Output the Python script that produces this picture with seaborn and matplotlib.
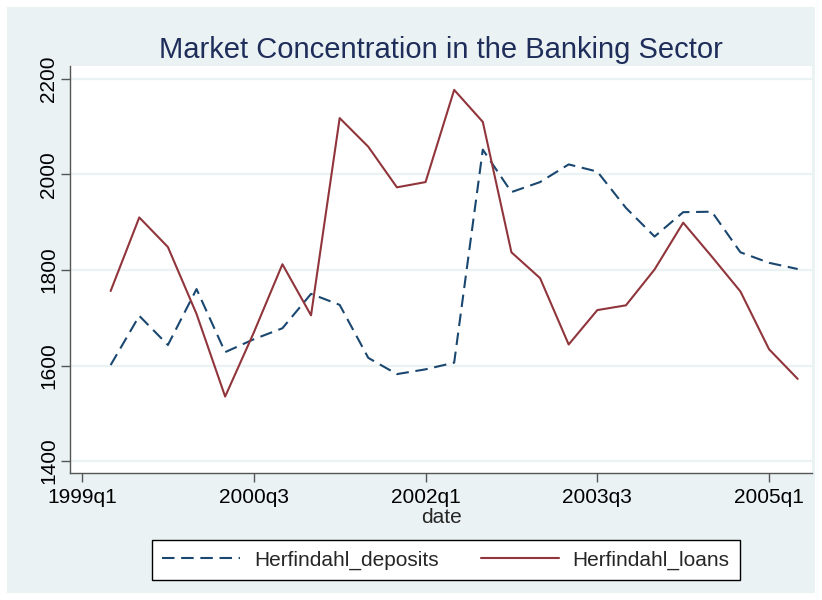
import matplotlib
matplotlib.use("Agg")
import matplotlib.pyplot as plt
import seaborn as sns
import pandas as pd
import numpy as np
from matplotlib.patches import Rectangle
from matplotlib.lines import Line2D

quarters = ["1999q2","1999q3","1999q4","2000q1","2000q2","2000q3","2000q4",
            "2001q1","2001q2","2001q3","2001q4","2002q1","2002q2","2002q3",
            "2002q4","2003q1","2003q2","2003q3","2003q4","2004q1","2004q2",
            "2004q3","2004q4","2005q1","2005q2"]
deposits = [1601, 1704, 1643, 1760, 1628, 1655, 1678, 1750, 1727, 1616, 1582,
            1592, 1606, 2052, 1963, 1984, 2021, 2006, 1930, 1870, 1921,
            1922, 1837, 1815, 1802]
loans = [1756, 1910, 1848, 1708, 1535, 1669, 1812, 1705, 2118, 2058, 1973,
         1984, 2177, 2110, 1837, 1783, 1644, 1716, 1726, 1801, 1899,
         1828, 1755, 1634, 1572]
tick_labels = ["1999q1", "2000q3", "2002q1", "2003q3", "2005q1"]
ytick_vals = [1400, 1600, 1800, 2000, 2200]

def qindex(q):
    y, qq = q.split("q")
    return (int(y) - 1999) * 4 + int(qq) - 1

x = [qindex(q) for q in quarters]
df = pd.DataFrame({
    "date": x * 2,
    "value": deposits + loans,
    "series": ["Herfindahl_deposits"] * len(x) + ["Herfindahl_loans"] * len(x),
})

sns.set_theme(style="white")
plt.rcParams['font.family'] = ['Liberation Sans', 'DejaVu Sans']

bg = "#EAF2F3"
fig = plt.figure(figsize=(8.22, 6.0), dpi=100, facecolor="white")
fig.patches.append(Rectangle((7/822, 7/600), 808/822, 586/600, transform=fig.transFigure,
                             facecolor=bg, edgecolor="none", zorder=-10))
ax = fig.add_axes([70/822, 1 - 473/600, 742/822, 407/600])
ax.set_facecolor("white")

palette = {"Herfindahl_deposits": "#1a476f", "Herfindahl_loans": "#90353b"}
dashes = {"Herfindahl_deposits": (6, 3.2), "Herfindahl_loans": ""}
sns.lineplot(data=df, x="date", y="value", hue="series", style="series",
             palette=palette, dashes=dashes, linewidth=1.5, ax=ax, legend=False)

ax.set_xlim(-0.42, 25.5)
ax.set_ylim(1375, 2227)
ax.set_yticks(ytick_vals)
ax.set_yticklabels([str(v) for v in ytick_vals], rotation=90, va="center", fontsize=15)
ax.set_xticks([qindex(t) for t in tick_labels])
ax.set_xticklabels(tick_labels, fontsize=15)
ax.grid(axis="y", color=bg, linewidth=1.6)
ax.grid(axis="x", visible=False)
for s in ["top", "right"]:
    ax.spines[s].set_visible(False)
for s in ["left", "bottom"]:
    ax.spines[s].set_color("#555555")
    ax.spines[s].set_linewidth(1.0)
ax.tick_params(axis="y", direction="out", length=6.5, width=1.0, color="#555555",
               labelcolor="black", pad=2, left=True)
ax.tick_params(axis="x", direction="out", length=6.5, width=1.0, color="#555555",
               labelcolor="black", pad=4, bottom=True)
ax.set_xlabel("date", fontsize=15, labelpad=1)
ax.set_ylabel("")
ax.set_title("Market Concentration in the Banking Sector", fontsize=21,
             color="#1e2d5a", pad=6)

handles = [Line2D([], [], color="#1a476f", linewidth=1.5, dashes=(6, 3.2)),
           Line2D([], [], color="#90353b", linewidth=1.5)]
leg = fig.legend(handles, ["Herfindahl_deposits", "Herfindahl_loans"],
                 loc="center", bbox_to_anchor=(446/822, 1 - 560/600), ncol=2,
                 fontsize=15, frameon=True, fancybox=False, handlelength=3.75,
                 columnspacing=2.0, borderpad=0.5, handletextpad=0.67,
                 borderaxespad=0)
leg.get_frame().set_edgecolor("black")
leg.get_frame().set_facecolor("white")
leg.get_frame().set_alpha(1.0)
leg.get_frame().set_linewidth(1.0)

fig.savefig("out.png", dpi=100, facecolor="white")
